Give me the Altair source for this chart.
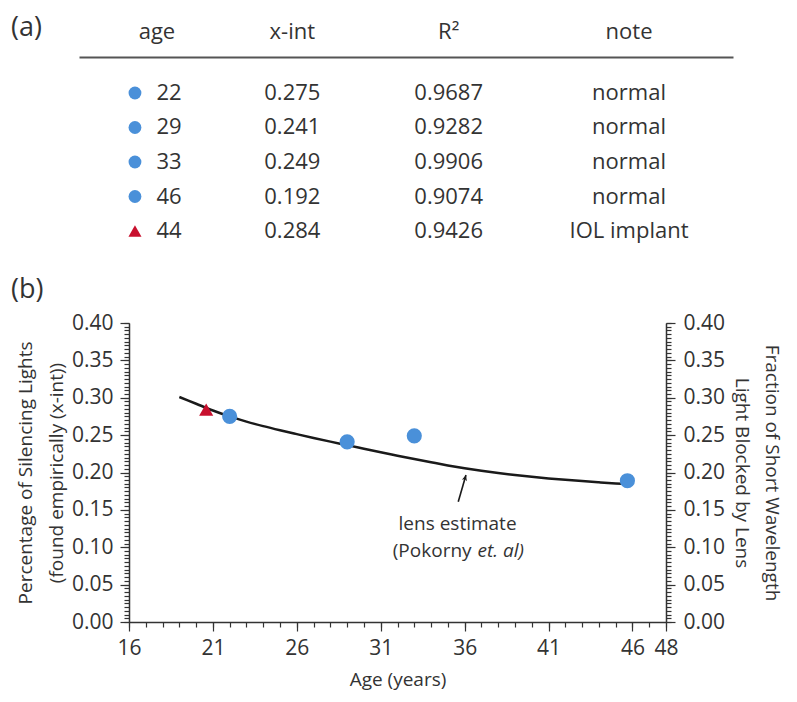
import altair as alt
import pandas as pd

FONT = "Open Sans"
INK = "#333333"
BLUE = "#4a90d9"
RED = "#c8102e"

# ---------------- (a) table ----------------
headers = ["age", "x-int", "R²", "note"]
t_age = ["22", "29", "33", "46", "44"]
t_xint = ["0.275", "0.241", "0.249", "0.192", "0.284"]
t_r2 = ["0.9687", "0.9282", "0.9906", "0.9074", "0.9426"]
t_note = ["normal", "normal", "normal", "normal", "IOL implant"]
t_marker = ["normal", "normal", "normal", "normal", "IOL"]
row_keys = ["1", "2", "3", "4", "5"]

# ---------------- (b) plot ----------------
pt_age = [22, 29, 33, 45.7]
pt_val = [0.275, 0.241, 0.249, 0.189]
iol_age = [20.6]
iol_val = [0.284]
curve_age = [19, 20, 21, 22, 23, 24, 25, 26, 27, 28, 29, 30, 31, 32, 33, 34,
             35, 36, 37, 38, 39, 40, 41, 42, 43, 44, 45, 45.7]
curve_val = [0.301, 0.292, 0.283, 0.275, 0.268, 0.262, 0.2565, 0.2513, 0.2462,
             0.2413, 0.2366, 0.2318, 0.227, 0.2225, 0.218, 0.2137, 0.2095,
             0.2057, 0.2023, 0.1993, 0.1966, 0.1942, 0.1921, 0.1902, 0.1885,
             0.1869, 0.1854, 0.1845]
x_major = [16, 21, 26, 31, 36, 41, 46, 48]
x_minor = list(range(16, 49))
y_major = [i * 0.05 for i in range(9)]
y_minor = [i * 0.005 for i in range(81)]
note_pos = {"age": 35.58, "val": 0.123}
arrow_age = [35.62, 36.08]
arrow_val = [0.161, 0.1967]

# ---------------- table chart ----------------
hdr_df = pd.DataFrame({"col": headers, "row": ["h"] * 4, "text": headers})
body = []
for cname, vals in zip(headers, [t_age, t_xint, t_r2, t_note]):
    for rk, v in zip(row_keys, vals):
        body.append({"col": cname, "row": rk, "text": v})
body_df = pd.DataFrame(body)
mk_df = pd.DataFrame({"col": ["age"] * 5, "row": row_keys, "kind": t_marker})

tx = alt.X("col:N", scale=alt.Scale(type="point", domain=headers, padding=0.578,
                                    align=0.4286, range=[-50, 604]),
           axis=alt.Axis(orient="top", domain=True, domainColor="#555555", domainWidth=2,
                         ticks=False, labels=False, title=None, grid=False))
ty = alt.Y("row:N", scale=alt.Scale(type="point", domain=["h"] + row_keys, padding=0.043),
           axis=None)

col_off = {"age": 12, "x-int": -22, "R²": -23, "note": 0}
hdr_off = {"age": 0, "x-int": -22, "R²": -23, "note": 0}

tlayers = []
for cname in headers:
    tlayers.append(
        alt.Chart(hdr_df).transform_filter(alt.datum.col == cname)
        .mark_text(font=FONT, fontSize=22, color=INK, xOffset=hdr_off[cname], yOffset=-26.5)
        .encode(x=tx, y=ty, text="text:N"))
    tlayers.append(
        alt.Chart(body_df).transform_filter(alt.datum.col == cname)
        .mark_text(font=FONT, fontSize=22, color=INK, xOffset=col_off[cname])
        .encode(x=tx, y=ty, text="text:N"))
tlayers.append(
    alt.Chart(mk_df).transform_filter(alt.datum.kind == "normal")
    .mark_point(shape="circle", filled=True, opacity=1, size=165, color=BLUE, xOffset=-22)
    .encode(x=tx, y=ty))
tlayers.append(
    alt.Chart(mk_df).transform_filter(alt.datum.kind == "IOL")
    .mark_point(shape="triangle-up", filled=True, opacity=1, size=170, color=RED, xOffset=-22)
    .encode(x=tx, y=ty))

table = alt.layer(*tlayers).properties(
    width=604, height=175.5,
    title=alt.TitleParams("(a)", anchor="start", frame="group", dx=-118, dy=25,
                          fontSize=27, font=FONT, fontWeight="normal", color=INK),
)

# ---------------- plot chart ----------------
XS = alt.Scale(domain=[16, 48], nice=False, zero=False)
YS = alt.Scale(domain=[0, 0.4], nice=False, zero=False)


def X(field, axis=None):
    return alt.X(field, type="quantitative", scale=XS, axis=axis)


def Y(field, axis=None):
    return alt.Y(field, type="quantitative", scale=YS, axis=axis)


curve_df = pd.DataFrame({"age": curve_age, "val": curve_val})
pt_df = pd.DataFrame({"age": pt_age, "val": pt_val})
iol_df = pd.DataFrame({"age": iol_age, "val": iol_val})
note_df = pd.DataFrame([note_pos])
arrow_df = pd.DataFrame({"age": arrow_age, "val": arrow_val})
tip_df = arrow_df.tail(1)

ax_common = dict(domainColor=INK, tickColor=INK, labelColor=INK, titleColor=INK,
                 labelFont=FONT, titleFont=FONT, grid=False, domainWidth=1.5,
                 tickWidth=1.2)

x_major_axis = alt.Axis(orient="bottom", values=x_major, format="d", tickSize=9,
                        labelFontSize=21, labelPadding=6, labelOverlap=False,
                        labelFlush=False,
                        title="Age (years)", titleFontSize=19, titleFontWeight="normal",
                        titlePadding=12, **ax_common)
x_minor_axis = alt.Axis(orient="bottom", values=x_minor, tickSize=5, labels=False,
                        domain=False, title=None, **ax_common)
yl_major_axis = alt.Axis(orient="left", values=y_major, format=".2f", tickSize=9,
                         labelFontSize=21, labelPadding=7, labelOverlap=False,
                         labelFlush=False,
                         title=["Percentage of Silencing Lights", "(found empirically (x-int))"],
                         titleFontSize=19, titleFontWeight="normal", titlePadding=5,
                         titleLineHeight=31, **ax_common)
yl_minor_axis = alt.Axis(orient="left", values=y_minor, tickSize=5, labels=False,
                         domain=False, title=None, **ax_common)
yr_major_axis = alt.Axis(orient="right", values=y_major, format=".2f", tickSize=9,
                         labelFontSize=21, labelPadding=8, labelOverlap=False,
                         labelFlush=False,
                         title=["Fraction of Short Wavelength", "Light Blocked by Lens"],
                         titleFontSize=19, titleFontWeight="normal", titlePadding=7,
                         titleLineHeight=30, **ax_common)
yr_minor_axis = alt.Axis(orient="right", values=y_minor, tickSize=5, labels=False,
                         domain=False, title=None, **ax_common)

base_inv = alt.Chart(curve_df).mark_point(opacity=0)

layers = [
    alt.Chart(curve_df).mark_line(color="#1a1a1a", strokeWidth=2.5, interpolate="monotone")
    .encode(x=X("age", x_major_axis), y=Y("val", yl_major_axis)),
    base_inv.encode(x=X("age", x_minor_axis), y=Y("val")),
    base_inv.encode(x=X("age"), y=Y("val", yl_minor_axis)),
    base_inv.encode(x=X("age"), y=Y("val", yr_major_axis)),
    base_inv.encode(x=X("age"), y=Y("val", yr_minor_axis)),
    alt.Chart(iol_df).mark_point(shape="triangle-up", filled=True, opacity=1, size=200, color=RED)
    .encode(x=X("age"), y=Y("val")),
    alt.Chart(pt_df).mark_point(shape="circle", filled=True, opacity=1, size=230, color=BLUE)
    .encode(x=X("age"), y=Y("val")),
    alt.Chart(arrow_df).mark_line(color="#1a1a1a", strokeWidth=1.6)
    .encode(x=X("age"), y=Y("val")),
    alt.Chart(tip_df).mark_point(shape="M0,0L0.5,1.1L0,0.8L-0.5,1.1Z", filled=True, opacity=1,
                                 size=110, color="#1a1a1a", angle=16)
    .encode(x=X("age"), y=Y("val")),
    alt.Chart(note_df).mark_text(font=FONT, fontSize=19, color=INK, align="center",
                                 baseline="alphabetic", text="lens estimate")
    .encode(x=X("age"), y=Y("val")),
    alt.Chart(note_df).mark_text(font=FONT, fontSize=19, color=INK, align="right",
                                 baseline="alphabetic", dx=14, dy=27, text="(Pokorny")
    .encode(x=X("age"), y=Y("val")),
    alt.Chart(note_df).mark_text(font=FONT, fontSize=19, color=INK, align="left",
                                 baseline="alphabetic", dx=20, dy=27, fontStyle="italic",
                                 text="et. al)")
    .encode(x=X("age"), y=Y("val")),
]

plot = alt.layer(*layers).resolve_scale(x="independent", y="independent").properties(
    width=537, height=299,
    title=alt.TitleParams("(b)", anchor="start", frame="group", dx=-118, dy=-4,
                          fontSize=27, font=FONT, fontWeight="normal", color=INK),
)

chart = (alt.vconcat(table, plot, spacing=33)
         .properties(padding={"top": 5, "left": 3, "right": 6, "bottom": 8})
         .configure(font=FONT)
         .configure_view(stroke=None))

chart.save("out.html", embed_options={"renderer": "svg", "actions": False})
